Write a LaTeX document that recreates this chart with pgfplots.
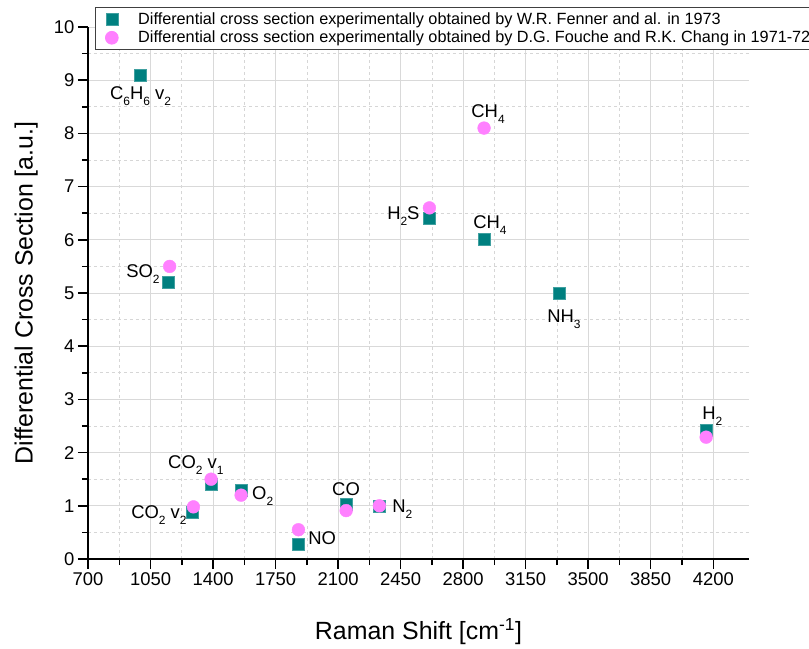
\documentclass[border=0pt]{standalone}
\usepackage{fontspec}
\setmainfont{Liberation Sans}
\usepackage{pgfplots}
\pgfplotsset{compat=1.18}

\definecolor{fenner}{HTML}{008080}
\definecolor{fouche}{HTML}{FF80FF}
\definecolor{gridmajor}{HTML}{D9D9D9}
\definecolor{gridminor}{HTML}{D6D6D6}

\newcommand{\molfont}{\fontsize{18.5}{20}\selectfont}
\newcommand{\labfont}{\fontsize{25}{28}\selectfont}
% chemical subscript: small and well below the baseline
\newcommand{\sub}[1]{\raisebox{-6bp}{\fontsize{12}{12}\selectfont #1}}

\begin{document}
\begin{tikzpicture}
\path[use as bounding box] (-88bp,-90bp) rectangle (721bp,559bp);
\begin{axis}[
  at={(0,0)}, anchor=south west,
  scale only axis, width=661bp, height=532bp,
  xmin=700, xmax=4400, ymin=0, ymax=10,
  axis x line*=bottom, axis y line*=left,
  axis line style={line width=1.5bp, black},
  xtick={700,1050,...,4200}, ytick={0,1,...,10},
  minor x tick num=1, minor y tick num=1,
  tick align=outside,
  major tick length=10bp, minor tick length=6bp,
  every tick/.style={line width=1.5bp, black},
  /pgf/number format/assume math mode=true,
  /pgf/number format/1000 sep={},
  scaled ticks=false,
  tick label style={font=\fontsize{18.5}{20}\selectfont},
  grid=both,
  major grid style={solid, gridmajor, line width=0.9bp},
  minor grid style={dashed, gridminor, line width=0.6bp},
  xlabel={Raman Shift [cm\textsuperscript{-1}]},
  ylabel={Differential Cross Section [a.u.]},
  every axis x label/.style={at={(rel axis cs:0.5,-0.137)}, anchor=center, font=\labfont},
  every axis y label/.style={at={(rel axis cs:-0.0935,0.5)}, rotate=90, anchor=center, font=\labfont},
  legend style={at={(rel axis cs:0.0106,1.0376)}, anchor=north west,
    draw=black!75, line width=0.8bp, fill=white,
    font=\fontsize{16.3}{19}\selectfont,
    inner xsep=10bp, inner ysep=3.5bp, row sep=1bp,
    /tikz/every odd column/.append style={column sep=18bp}},
  legend cell align=left,
  clip=false,
]

% W.R. Fenner et al. (1973)
\addplot[only marks, mark=square*, mark size=6bp,
  mark options={fill=fenner, draw=fenner!75!white, line width=0.6bp}]
  table {
  x     y
  992   9.1
  1152  5.2
  1285  0.88
  1388  1.4
  1556  1.3
  1877  0.27
  2145  1.03
  2331  1.0
  2611  6.4
  2917  6.0
  3336  5.0
  4160  2.42
  };
\addlegendentry{Differential cross section experimentally obtained by W.R. Fenner and al. in 1973}

% D.G. Fouche and R.K. Chang (1971-72)
\addplot[only marks, mark=*, mark size=6.4bp,
  mark options={fill=fouche, draw=fouche}]
  table {
  x     y
  1157  5.5
  1290  0.98
  1389  1.5
  1557  1.2
  1878  0.55
  2145  0.91
  2331  1.0
  2611  6.6
  2917  8.1
  4160  2.29
  };
\addlegendentry{Differential cross section experimentally obtained by D.G. Fouche and R.K. Chang in 1971-72}

% molecule labels
\begin{scope}[every node/.style={anchor=base west, inner sep=0pt, font=\molfont}]
\node at (axis cs:823,8.63)  {C\sub{6}H\sub{6} v\sub{2}};
\node at (axis cs:913,5.30)  {SO\sub{2}};
\node at (axis cs:1148,1.71) {CO\sub{2} v\sub{1}};
\node at (axis cs:941,0.77)  {CO\sub{2} v\sub{2}};
\node at (axis cs:1618,1.11) {O\sub{2}};
\node at (axis cs:1932,0.28) {NO};
\node at (axis cs:2066,1.20) {CO};
\node at (axis cs:2402,0.88) {N\sub{2}};
\node at (axis cs:2374,6.39) {H\sub{2}S};
\node at (axis cs:2845,8.29) {CH\sub{4}};
\node at (axis cs:2856,6.22) {CH\sub{4}};
\node at (axis cs:3270,4.45) {NH\sub{3}};
\node at (axis cs:4138,2.63) {H\sub{2}};
\end{scope}
\end{axis}
\end{tikzpicture}
\end{document}
